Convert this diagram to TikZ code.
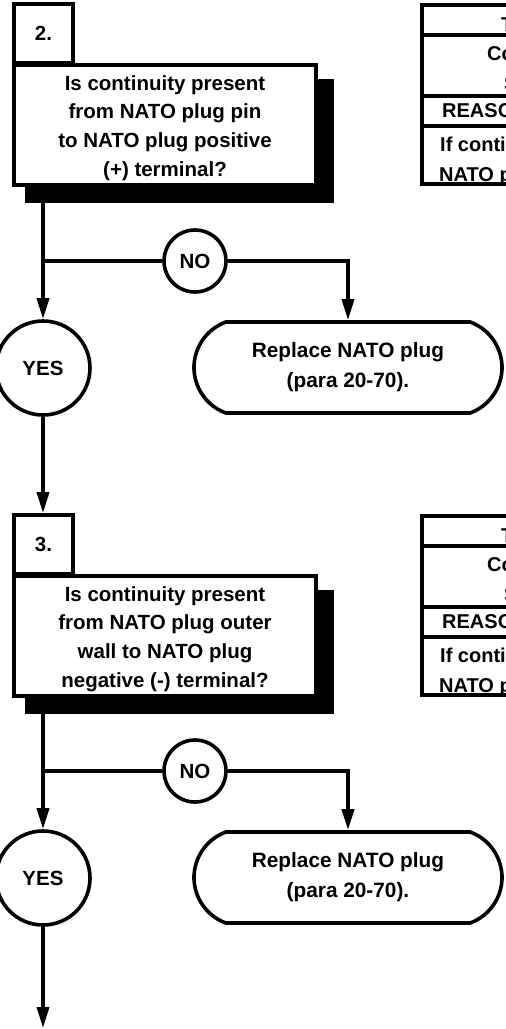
\documentclass[tikz,border=0pt]{standalone}
\usepackage{fontspec}
\setmainfont{Liberation Sans}
\usetikzlibrary{arrows.meta,shapes.misc}
\begin{document}
\begin{tikzpicture}[x=1pt,y=-1pt,
  every node/.style={font=\bfseries\fontsize{20.5}{28.7}\selectfont, inner sep=0pt},
  lw/.style={line width=3.6pt},
  numbox/.style={draw, lw, fill=white, minimum width=59pt, minimum height=59pt},
  shadowbox/.style={fill=black, draw=none, outer sep=0pt, minimum width=309pt, minimum height=124pt},
  qbox/.style={draw, lw, fill=white, minimum width=302pt, minimum height=120pt},
  qtext/.style={align=center},
  circ/.style={draw, lw, circle, fill=white},
  term/.style={draw, lw, rounded rectangle, rounded rectangle arc length=140, minimum width=308pt, minimum height=91pt, align=center, font=\bfseries\fontsize{20.8}{30}\selectfont},
  conn/.style={lw},
  arr/.style={lw, -{Triangle[length=21pt,width=12pt]}},
  tbl/.style={line width=3.8pt},
  ttext/.style={anchor=base west, font=\bfseries\fontsize{20}{24}\selectfont},
]
\useasboundingbox (0,0) rectangle (506,1029);
\clip (0,0) rectangle (506,1029);

% ---------- step 2 ----------
\node[shadowbox] (s2) at (179.5,141) {};
\node[qbox] (q2) at (165,125) {};
\node[qtext] (q2t) at ([yshift=-3pt]q2.center) {Is continuity present\\from NATO plug pin\\to NATO plug positive\\(+) terminal?};
\node[numbox] (n2) at (43.5,33.5) {2.};

\node[circ, minimum size=62pt] (no2) at (195,261) {NO};
\node[circ, minimum size=94pt] (y2) at (43,368) {YES};
\node[term] (r2) at (348,367.5) {Replace NATO plug\\(para 20-70).};

\coordinate (b2) at (y2.north |- no2.west);
\draw[arr] (s2.south -| y2.north) -- (y2.north);
\draw[conn] (b2) -- (no2.west);
\draw[arr] (no2.east) -| (r2.north);

% table 2 (cut off at the picture edge)
\draw[tbl] (422,5) rectangle (620,184);
\draw[tbl] (422,35) -- (620,35);
\draw[tbl] (422,96) -- (620,96);
\draw[tbl] (422,126) -- (620,126);
\node[ttext] (t2a) at (501,31) {TEST};
\node[ttext] (t2b) at (487,60) {Connect};
\node[ttext] (t2c) at (504,90) {Set};
\node[ttext] (t2d) at (442,117) {REASON:};
\node[ttext] (t2e) at (440,151) {If continuity};
\node[ttext] (t2f) at (439,181) {NATO plug};

% ---------- step 3 ----------
\node[numbox] (n3) at (43.5,544.5) {3.};
\draw[arr] (y2.south) -- (y2.south |- n3.north);
\node[shadowbox] (s3) at (179.5,652) {};
\node[qbox] (q3) at (165,636) {};
\node[qtext] (q3t) at ([yshift=-3pt]q3.center) {Is continuity present\\from NATO plug outer\\wall to NATO plug\\negative (-) terminal?};
\node[numbox] (n3b) at (43.5,544.5) {3.};

\node[circ, minimum size=62pt] (no3) at (195,771) {NO};
\node[circ, minimum size=94pt] (y3) at (43,878) {YES};
\node[term] (r3) at (348,877.5) {Replace NATO plug\\(para 20-70).};

\coordinate (b3) at (y3.north |- no3.west);
\coordinate (end3) at (43,1028);
\draw[arr] (s3.south -| y3.north) -- (y3.north);
\draw[conn] (b3) -- (no3.west);
\draw[arr] (no3.east) -| (r3.north);
\draw[arr] (y3.south) -- (end3);

% table 3 (cut off at the picture edge)
\draw[tbl] (422,516) rectangle (620,695);
\draw[tbl] (422,546) -- (620,546);
\draw[tbl] (422,607) -- (620,607);
\draw[tbl] (422,637) -- (620,637);
\node[ttext] (t3a) at (501,542) {TEST};
\node[ttext] (t3b) at (487,571) {Connect};
\node[ttext] (t3c) at (504,601) {Set};
\node[ttext] (t3d) at (442,628) {REASON:};
\node[ttext] (t3e) at (440,662) {If continuity};
\node[ttext] (t3f) at (439,692) {NATO plug};
\end{tikzpicture}
\end{document}
